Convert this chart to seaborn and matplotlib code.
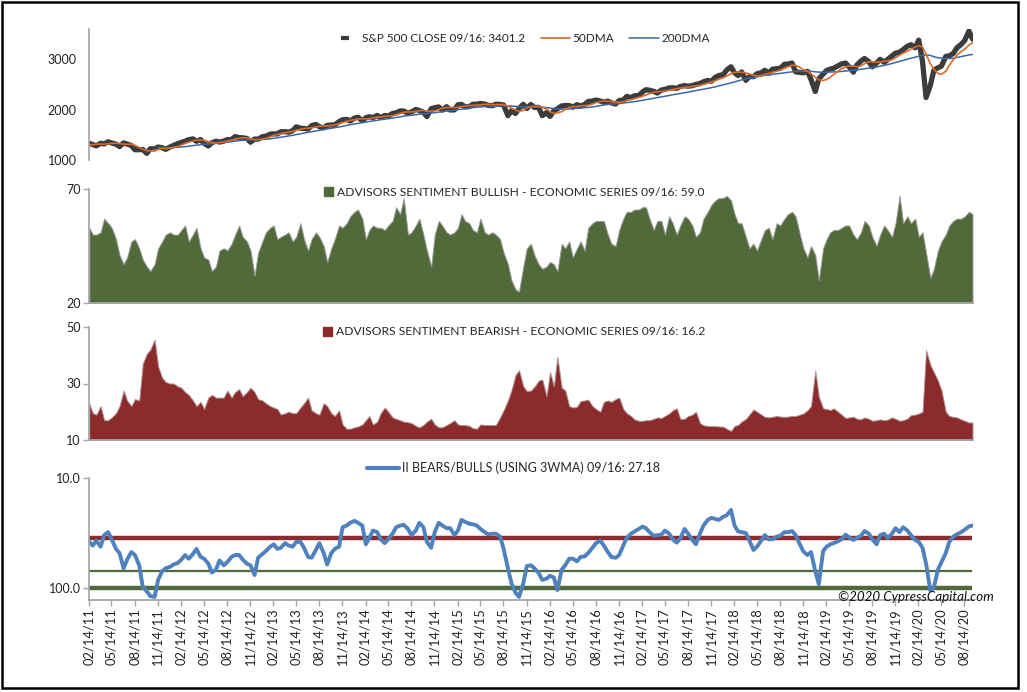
import numpy as np
import pandas as pd
import matplotlib
matplotlib.use("Agg")
import matplotlib.pyplot as plt
from matplotlib.lines import Line2D
from matplotlib.patches import Patch, Rectangle
from matplotlib.ticker import NullLocator
import seaborn as sns

# semi-monthly readings (1st and 15th), 02/15/11 .. 09/15/20
dates = pd.date_range("2011-02-15", "2020-09-15", freq="SMS")

sp_close = [
    1328, 1306, 1281, 1332, 1320, 1361, 1337, 1315, 1266, 1339, 1316, 1287, 1204, 1204, 1209, 1131, 1224, 1219, 1257, 1244, 1212,
    1258, 1289, 1324, 1350, 1374, 1403, 1419, 1370, 1405, 1330, 1278, 1342, 1374, 1356, 1375, 1405, 1406, 1465, 1444, 1440, 1427, 1353, 1416, 1413,
    1462, 1472, 1513, 1519, 1518, 1560, 1562, 1552, 1582, 1658, 1631, 1626, 1614, 1682, 1706, 1661, 1639, 1688, 1695, 1698, 1761, 1798, 1806, 1775,
    1831, 1848, 1782, 1838, 1859, 1841, 1885, 1842, 1883, 1870, 1924, 1936, 1973, 1973, 1925, 1955, 2003, 1984, 1946, 1862, 2018, 2039, 2053, 1989,
    2058, 1992, 1995, 2096, 2104, 2053, 2059, 2106, 2108, 2122, 2111, 2084, 2077, 2107, 2104, 2091, 1880, 1978, 1923, 2023, 2104, 2023, 2102, 2043,
    2044, 1880, 1939, 1865, 1978, 2015, 2073, 2081, 2081, 2047, 2099, 2071, 2103, 2161, 2170, 2190, 2170, 2147, 2168, 2133, 2111, 2180, 2191, 2262,
    2239, 2275, 2279, 2349, 2395, 2385, 2362, 2329, 2388, 2402, 2430, 2433, 2423, 2459, 2476, 2465, 2476, 2500, 2519, 2553, 2579, 2564, 2642, 2676,
    2695, 2786, 2850, 2731, 2677, 2747, 2582, 2656, 2654, 2711, 2734, 2780, 2726, 2801, 2813, 2818, 2901, 2904, 2924, 2750, 2740, 2730, 2760, 2600,
    2360, 2610, 2707, 2775, 2804, 2822, 2867, 2906, 2924, 2850, 2744, 2886, 2964, 3014, 2953, 2848, 2926, 2997, 2940, 2995, 3066, 3120, 3141, 3191,
    3258, 3289, 3226, 3380, 2954, 2240, 2480, 2783, 2830, 2863, 3055, 3066, 3115, 3226, 3294, 3372, 3560, 3401,
]

dma50 = [
    1290, 1305, 1315, 1315, 1315, 1320, 1330, 1335, 1325, 1315, 1310, 1315, 1290, 1250, 1215, 1185, 1180, 1190, 1210, 1230, 1225,
    1235, 1250, 1270, 1300, 1330, 1355, 1380, 1395, 1395, 1390, 1370, 1345, 1340, 1345, 1360, 1375, 1395, 1415, 1430, 1440, 1440, 1420, 1405, 1405,
    1415, 1430, 1460, 1490, 1505, 1525, 1540, 1555, 1570, 1590, 1610, 1625, 1630, 1640, 1655, 1670, 1675, 1675, 1685, 1695, 1720, 1745, 1770, 1785,
    1800, 1815, 1820, 1815, 1820, 1835, 1850, 1855, 1865, 1870, 1880, 1900, 1925, 1945, 1955, 1955, 1965, 1980, 1985, 1970, 1965, 1975, 2000, 2030,
    2040, 2045, 2040, 2045, 2060, 2070, 2080, 2085, 2090, 2095, 2105, 2105, 2100, 2100, 2100, 2100, 2070, 2030, 1990, 1965, 1985, 2030, 2060, 2065,
    2070, 2045, 2010, 1960, 1925, 1935, 1960, 2000, 2040, 2060, 2065, 2075, 2080, 2085, 2110, 2140, 2160, 2170, 2165, 2160, 2150, 2145, 2155, 2180,
    2200, 2220, 2245, 2265, 2290, 2320, 2345, 2355, 2360, 2370, 2385, 2400, 2415, 2430, 2440, 2450, 2460, 2470, 2480, 2500, 2525, 2550, 2575, 2605,
    2630, 2670, 2710, 2740, 2745, 2740, 2730, 2705, 2685, 2670, 2675, 2700, 2720, 2740, 2760, 2790, 2820, 2850, 2880, 2875, 2840, 2790, 2760, 2710,
    2640, 2590, 2580, 2600, 2640, 2700, 2760, 2810, 2845, 2870, 2865, 2850, 2870, 2910, 2950, 2950, 2940, 2945, 2960, 2970, 2990, 3030, 3080, 3120,
    3160, 3200, 3240, 3270, 3240, 3100, 2910, 2800, 2720, 2700, 2760, 2880, 2990, 3080, 3150, 3200, 3280, 3330,
]

dma200 = [
    None, None, None, None, None, None, None, None, None, None, None, None, None, None, None, None, None, None, 1250, 1245, 1243,
    1245, 1248, 1252, 1258, 1265, 1275, 1285, 1295, 1305, 1312, 1318, 1325, 1333, 1340, 1348, 1357, 1365, 1375, 1385, 1392, 1396, 1398, 1400, 1403,
    1408, 1413, 1420, 1430, 1440, 1452, 1465, 1478, 1490, 1505, 1520, 1535, 1548, 1562, 1577, 1590, 1605, 1617, 1630, 1642, 1655, 1670, 1685, 1700,
    1715, 1728, 1740, 1752, 1765, 1775, 1787, 1800, 1810, 1820, 1832, 1845, 1857, 1870, 1880, 1890, 1900, 1910, 1918, 1922, 1930, 1940, 1950, 1960,
    1970, 1980, 1990, 2000, 2010, 2020, 2030, 2040, 2048, 2055, 2060, 2065, 2070, 2075, 2077, 2078, 2075, 2070, 2065, 2060, 2058, 2057, 2056, 2055,
    2053, 2048, 2040, 2030, 2020, 2015, 2012, 2012, 2015, 2020, 2025, 2030, 2035, 2040, 2050, 2065, 2080, 2092, 2102, 2110, 2115, 2122, 2130, 2140,
    2150, 2160, 2172, 2185, 2198, 2212, 2225, 2238, 2252, 2265, 2280, 2295, 2308, 2320, 2335, 2348, 2362, 2375, 2390, 2405, 2420, 2435, 2452, 2470,
    2490, 2510, 2530, 2550, 2570, 2590, 2610, 2625, 2640, 2655, 2670, 2680, 2690, 2700, 2710, 2720, 2730, 2740, 2750, 2760, 2765, 2765, 2765, 2760,
    2750, 2745, 2742, 2742, 2745, 2748, 2752, 2758, 2765, 2775, 2780, 2788, 2800, 2810, 2822, 2835, 2848, 2862, 2878, 2895, 2915, 2935, 2958, 2980,
    3000, 3020, 3040, 3060, 3078, 3085, 3075, 3050, 3030, 3020, 3015, 3015, 3020, 3035, 3055, 3070, 3085, 3095,
]

bullish = [
    53, 50, 50, 51, 57, 55, 53, 48, 41, 37, 40, 47, 48, 44, 39, 36, 34, 37, 44, 47, 50,
    51, 50, 50, 52, 54, 47, 50, 53, 44, 40, 39, 34, 36, 43, 44, 43, 46, 50, 54, 49, 47, 43, 32, 42,
    47, 51, 53, 54, 48, 49, 50, 51, 47, 49, 55, 48, 43, 48, 51, 49, 45, 38, 44, 48, 54, 53, 55, 58,
    60, 61, 57, 48, 52, 54, 53, 53, 52, 54, 56, 62, 59, 66, 50, 51, 54, 57, 50, 43, 36, 50, 56, 54,
    51, 50, 51, 53, 59, 56, 55, 52, 51, 57, 51, 50, 51, 50, 48, 42, 37, 30, 26, 25, 36, 44, 46, 41,
    37, 35, 36, 38, 37, 34, 46, 44, 47, 40, 44, 47, 43, 53, 55, 56, 56, 56, 50, 46, 45, 52, 57, 60,
    60, 61, 61, 62, 62, 57, 52, 56, 56, 50, 58, 55, 50, 54, 58, 57, 54, 49, 51, 57, 60, 63, 65, 66,
    66, 67, 65, 59, 55, 55, 49, 44, 46, 43, 48, 52, 53, 48, 55, 54, 57, 59, 60, 58, 50, 44, 40, 45,
    41, 30, 44, 48, 51, 52, 52, 53, 54, 54, 50, 48, 51, 56, 54, 49, 45, 50, 54, 52, 49, 55, 67, 55,
    58, 55, 57, 49, 51, 42, 31, 35, 43, 47, 50, 54, 56, 57, 57, 58, 60, 59,
]

bearish = [
    23, 19.5, 19, 22, 17, 17, 18, 19.5, 22, 27.5, 24, 22, 24.5, 24, 37, 40.5, 42, 45.5, 36, 32, 30.5,
    30, 30, 29, 28.5, 27, 26, 24, 22, 23.5, 21, 25, 26, 25, 25, 25, 27.5, 25, 27, 28, 25.5, 27, 28.5, 27, 24.5,
    24, 23, 22, 21.5, 21, 19, 19.5, 20, 19.5, 19.5, 21.5, 23, 25, 20.5, 19.5, 19, 23, 22, 19.5, 18.5, 20.5, 15.5, 14, 14,
    14.5, 14.8, 15.5, 17, 18.5, 15.5, 16.5, 19.5, 21.5, 20, 18, 17.5, 17, 16.5, 16.3, 16, 15, 14.5, 15.3, 16.5, 17.5, 15.5, 14.5, 14.5,
    15.3, 16, 17, 15.5, 15.3, 15.3, 15, 14.2, 14, 15.5, 15.3, 15.3, 15.3, 15.3, 18, 20.5, 24, 27.6, 33, 34.7, 29, 27.3, 27.5, 28.8,
    31, 31.4, 25.5, 34, 29, 39.4, 28.5, 27.6, 22, 21.5, 21.8, 23.8, 24, 24.3, 22, 21, 20, 23.5, 24, 23.5, 24.5, 25, 21, 19.5,
    18.5, 17.3, 16.8, 16.8, 17, 17, 17.5, 18, 17.8, 18.5, 19.4, 20.5, 21.2, 17.5, 17.5, 18.5, 19, 20, 16, 15.2, 15, 14.9, 14.9, 14.8,
    14.7, 14, 13.2, 15, 15.3, 16.5, 17.5, 19, 20.8, 20, 19, 18.2, 18, 18.2, 18.5, 18.3, 18.2, 18.3, 18.5, 18.5, 19, 19.4, 20.5, 22,
    34.5, 25.3, 21.2, 21, 20.6, 21.2, 20, 19, 17.8, 18, 18.2, 17.5, 17.3, 18, 17.5, 16.8, 17, 17.3, 17, 17.2, 18, 17.5, 16.8, 17,
    17.6, 18.8, 19, 19.4, 20, 41.8, 36.5, 34, 31, 27.6, 20, 18.5, 18.2, 18, 17.3, 16.8, 16.2, 16.2,
]

bears_bulls = [
    38, 41, 37, 42, 33, 31, 36, 44, 48, 66, 55, 47, 50, 62, 97, 107, 118, 120, 84, 70, 66,
    64, 61, 59, 55, 50, 54, 49, 44, 52, 54, 60, 72, 68, 56, 62, 58, 52, 50, 50, 55, 60, 62, 76, 53,
    49, 46, 42, 40, 44, 43, 39, 41, 42, 38, 38, 43, 52, 53, 45, 39, 48, 61, 48, 44, 42, 28, 27, 25.5,
    24.5, 25.5, 27, 40, 35, 30, 31, 36, 39, 36, 32, 28, 27, 26.6, 29, 33, 30, 25.5, 28, 38, 43, 31, 25.5, 27,
    28.5, 28.5, 33, 30, 24, 25, 26, 26.3, 27, 29, 31, 32.5, 32, 32, 34, 44, 66, 90, 110, 120, 90, 63, 62, 66,
    73, 84, 82, 77, 80, 104, 68, 62, 54, 54, 57, 52, 51.5, 48, 43, 39, 37, 41, 47, 52, 53, 50, 41, 35,
    32, 30.5, 29, 27.6, 28.5, 31, 33.4, 33, 32.7, 30, 32, 36, 38.6, 35.5, 29, 32, 36.5, 40, 32, 27, 24, 23, 23.5, 24,
    22.5, 21.8, 19.5, 27, 30.5, 31, 31.6, 37, 45, 42, 37, 33, 36, 36, 34, 33.5, 31, 31, 30.3, 33, 40, 46.5, 50, 47,
    70, 92, 46, 42, 40, 39, 37.5, 36, 32.7, 34.5, 36.5, 35, 33.5, 30.3, 32, 36, 40, 33, 32, 35, 32, 28.5, 31, 28,
    30, 33, 36.5, 38, 43, 60, 105, 98, 68, 58, 48, 38, 34, 32.5, 31, 29.5, 27.5, 27,
]

# threshold lines on the ratio panel
red_level = 35
green_levels = [70, 100]

tick_dates = pd.date_range("2011-02-14", "2020-08-14", freq=pd.DateOffset(months=3))
tick_labels = [d.strftime("%m/%d/%y") for d in tick_dates]

sp_label = "S&P 500 CLOSE 09/16: 3401.2"
bull_label = "ADVISORS SENTIMENT BULLISH - ECONOMIC SERIES 09/16: 59.0"
bear_label = "ADVISORS SENTIMENT BEARISH - ECONOMIC SERIES 09/16: 16.2"
ratio_label = "II BEARS/BULLS (USING 3WMA) 09/16: 27.18"

df = pd.DataFrame({
    "date": dates,
    "close": sp_close,
    "dma50": dma50,
    "dma200": np.array(dma200, dtype=float),
    "bullish": bullish,
    "bearish": bearish,
    "ratio": bears_bulls,
})

sns.set_theme(style="white")
plt.rcParams["font.family"] = ["Lato", "DejaVu Sans"]

GRAY = "#A6A6A6"
DARK = "#3C3C3C"
ORANGE = "#D86A2A"
BLUE200 = "#3A68A8"
GREEN = "#506A3A"
RED = "#8C2B2B"
LINEBLUE = "#4F81BD"
FS = 9

W, H = 1027, 692


def box(left, top, right, bottom):
    return [left / W, 1 - bottom / H, (right - left) / W, (bottom - top) / H]


fig = plt.figure(figsize=(10.27, 6.92), dpi=100)
ax1 = fig.add_axes(box(89, 29, 973, 160))
ax2 = fig.add_axes(box(89, 189, 973, 303))
ax3 = fig.add_axes(box(89, 327, 973, 440))
ax4 = fig.add_axes(box(89, 478, 973, 600))

xmin, xmax = pd.Timestamp("2011-02-14"), pd.Timestamp("2020-09-17")

# S&P 500 with moving averages
sns.lineplot(data=df, x="date", y="close", ax=ax1, color=DARK, lw=3.8)
sns.lineplot(data=df, x="date", y="dma200", ax=ax1, color=BLUE200, lw=1.1)
sns.lineplot(data=df, x="date", y="dma50", ax=ax1, color=ORANGE, lw=1.2)
ax1.set_ylim(1000, 3600)
ax1.set_yticks([1000, 2000, 3000])

# bullish / bearish areas
ax2.fill_between(df["date"], 20, df["bullish"], color=GREEN, edgecolor="#9A9A9A", lw=0.7)
ax2.set_ylim(20, 70)
ax2.set_yticks([20, 70])

ax3.fill_between(df["date"], 10, df["bearish"], color=RED, edgecolor="#B09090", lw=0.7)
ax3.set_ylim(10, 50)
ax3.set_yticks([10, 30, 50])

# bears/bulls ratio, inverted log scale
ax4.hlines(red_level, df["date"].iloc[0], df["date"].iloc[-1], color=RED, lw=3.2)
ax4.hlines(green_levels[0], df["date"].iloc[0], df["date"].iloc[-1], color=GREEN, lw=1.6)
ax4.hlines(green_levels[1], df["date"].iloc[0], df["date"].iloc[-1], color=GREEN, lw=3.2)
sns.lineplot(data=df, x="date", y="ratio", ax=ax4, color=LINEBLUE, lw=2.8)
ax4.set_yscale("log")
ax4.set_ylim(128, 10)
ax4.set_yticks([10, 100])
ax4.set_yticklabels(["10.0", "100.0"])
ax4.yaxis.set_minor_locator(NullLocator())
ax4.set_xticks(tick_dates)
ax4.set_xticklabels(tick_labels, rotation=90)

for ax in (ax1, ax2, ax3, ax4):
    ax.set_xlim(xmin, xmax)
    ax.set_xlabel("")
    ax.set_ylabel("")
    for s in ax.spines.values():
        s.set_visible(False)
    ax.spines["left"].set_visible(True)
    ax.spines["left"].set_color(GRAY)
    ax.tick_params(axis="y", left=True, length=4, width=1, color=GRAY,
                   labelsize=FS, pad=2, labelcolor="#222222")
    if ax is not ax4:
        ax.set_xticks([])
    if ax is not ax1:
        ax.spines["bottom"].set_visible(True)
        ax.spines["bottom"].set_color(GRAY)
        ax.spines["bottom"].set_linewidth(1.3)

ax1.tick_params(axis="y", length=0, pad=9)
ax4.tick_params(axis="x", bottom=True, length=4, width=1, color=GRAY,
                labelsize=FS + 0.3, pad=2, labelcolor="#222222")

# legends
leg_kw = dict(loc="center", frameon=False, borderaxespad=0, borderpad=0)
fig.legend(
    [Line2D([], [], color=DARK, marker="_", ls="none", markersize=6, mew=3),
     Line2D([], [], color=ORANGE, lw=1.2),
     Line2D([], [], color=BLUE200, lw=1.1)],
    [sp_label, "50DMA", "200DMA"],
    bbox_to_anchor=(520 / W, 1 - 39 / H), ncol=3, fontsize=8.5, handlelength=2.5,
    handletextpad=0.2, columnspacing=1.3, **leg_kw)
fig.legend([Patch(color=GREEN)], [bull_label], bbox_to_anchor=(514 / W, 1 - 192 / H),
           fontsize=8.7, handlelength=0.8, handleheight=0.8, handletextpad=0.3, **leg_kw)
fig.legend([Patch(color=RED)], [bear_label], bbox_to_anchor=(514 / W, 1 - 332 / H),
           fontsize=8.7, handlelength=0.8, handleheight=0.8, handletextpad=0.3, **leg_kw)
fig.legend([Line2D([], [], color=LINEBLUE, lw=3)], [ratio_label],
           bbox_to_anchor=(513 / W, 1 - 468 / H), fontsize=FS, handlelength=2.6,
           handletextpad=0.2, **leg_kw)

fig.text(994 / W, 1 - 597 / H, "\u00a92020 CypressCapital.com", ha="right", va="center",
         fontsize=9.6, style="italic", color="#111111")

fig.add_artist(Rectangle((2 / W, 1 - 688 / H), 1016 / W, 686 / H, transform=fig.transFigure,
                         fill=False, ec="black", lw=1.8))

fig.savefig("out.png", dpi=100)
